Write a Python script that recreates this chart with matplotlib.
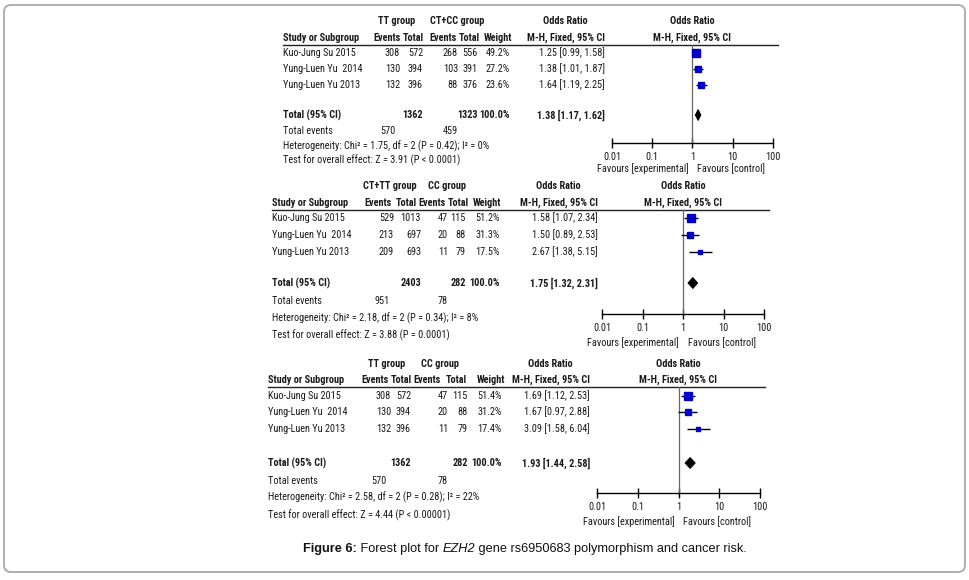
"""
Forest plots for EZH2 rs6950683 (three genetic models) - RevMan style
"""

import matplotlib
matplotlib.use("Agg")
import matplotlib.pyplot as plt
from matplotlib import font_manager as fm
from matplotlib.patches import FancyBboxPatch, Polygon

W, H = 970, 580
TXT = "#1a1a1a"
BLUE = "#0000c8"

studies = ["Kuo-Jung Su 2015", "Yung-Luen Yu  2014", "Yung-Luen Yu 2013"]

# panel 1: TT vs CT+CC
p1_groups = ["TT group", "CT+CC group"]
p1_exp_events = [308, 130, 132]
p1_exp_total = [572, 394, 396]
p1_ctl_events = [268, 103, 88]
p1_ctl_total = [556, 391, 376]
p1_weight = [49.2, 27.2, 23.6]
p1_or = [1.25, 1.38, 1.64]
p1_lo = [0.99, 1.01, 1.19]
p1_hi = [1.58, 1.87, 2.25]
p1_total = [1362, 1323]
p1_total_events = [570, 459]
p1_pooled = [1.38, 1.17, 1.62]
p1_het = "Heterogeneity: Chi\u00b2 = 1.75, df = 2 (P = 0.42); I\u00b2 = 0%"
p1_test = "Test for overall effect: Z = 3.91 (P < 0.0001)"

# panel 2: CT+TT vs CC
p2_groups = ["CT+TT group", "CC group"]
p2_exp_events = [529, 213, 209]
p2_exp_total = [1013, 697, 693]
p2_ctl_events = [47, 20, 11]
p2_ctl_total = [115, 88, 79]
p2_weight = [51.2, 31.3, 17.5]
p2_or = [1.58, 1.50, 2.67]
p2_lo = [1.07, 0.89, 1.38]
p2_hi = [2.34, 2.53, 5.15]
p2_total = [2403, 282]
p2_total_events = [951, 78]
p2_pooled = [1.75, 1.32, 2.31]
p2_het = "Heterogeneity: Chi\u00b2 = 2.18, df = 2 (P = 0.34); I\u00b2 = 8%"
p2_test = "Test for overall effect: Z = 3.88 (P = 0.0001)"

# panel 3: TT vs CC
p3_groups = ["TT group", "CC group"]
p3_exp_events = [308, 130, 132]
p3_exp_total = [572, 394, 396]
p3_ctl_events = [47, 20, 11]
p3_ctl_total = [115, 88, 79]
p3_weight = [51.4, 31.2, 17.4]
p3_or = [1.69, 1.67, 3.09]
p3_lo = [1.12, 0.97, 1.58]
p3_hi = [2.53, 2.88, 6.04]
p3_total = [1362, 282]
p3_total_events = [570, 78]
p3_pooled = [1.93, 1.44, 2.58]
p3_het = "Heterogeneity: Chi\u00b2 = 2.58, df = 2 (P = 0.28); I\u00b2 = 22%"
p3_test = "Test for overall effect: Z = 4.44 (P < 0.00001)"

or_ticks = [0.01, 0.1, 1, 10, 100]
or_tick_labels = ["0.01", "0.1", "1", "10", "100"]

# pixel layout of each panel (column values are right edges)
layouts = [
    dict(L=283, y_group=21, y_head=38, y_line=45, rows=[53, 69, 85], y_total=115,
         y_tev=131, y_het=146, y_test=160, ev1=400, tot1=423, ev2=458, tot2=478,
         wt=510, orc=605, h_ev1=401, h_tot1=424, h_ev2=457, h_tot2=480, h_wt=512,
         g1=397, g2=457, x001=612, x100=773, axis_y=143, fav_y=169),
    dict(L=272, y_group=186, y_head=203, y_line=210, rows=[218, 235, 252], y_total=283,
         y_tev=301, y_het=318, y_test=335, ev1=394, tot1=421, ev2=448, tot2=466,
         wt=500, orc=598, h_ev1=392, h_tot1=417, h_ev2=446, h_tot2=469, h_wt=501,
         g1=390, g2=447, x001=602, x100=764, axis_y=314, fav_y=343),
    dict(L=268, y_group=364, y_head=380, y_line=387, rows=[396, 412, 429], y_total=463,
         y_tev=481, y_het=497, y_test=515, ev1=391, tot1=411, ev2=448, tot2=468,
         wt=502, orc=590, h_ev1=389, h_tot1=412, h_ev2=441, h_tot2=467, h_wt=505,
         g1=387, g2=440, x001=597, x100=760, axis_y=493, fav_y=522),
]

panels = [
    (p1_groups, p1_exp_events, p1_exp_total, p1_ctl_events, p1_ctl_total, p1_weight,
     p1_or, p1_lo, p1_hi, p1_total, p1_total_events, p1_pooled, p1_het, p1_test),
    (p2_groups, p2_exp_events, p2_exp_total, p2_ctl_events, p2_ctl_total, p2_weight,
     p2_or, p2_lo, p2_hi, p2_total, p2_total_events, p2_pooled, p2_het, p2_test),
    (p3_groups, p3_exp_events, p3_exp_total, p3_ctl_events, p3_ctl_total, p3_weight,
     p3_or, p3_lo, p3_hi, p3_total, p3_total_events, p3_pooled, p3_het, p3_test),
]


# RevMan uses a narrow face; take the narrowest one we can find
def pick_font():
    entries = fm.fontManager.ttflist
    names = {f.name for f in entries}
    for fam, size in [("Roboto Condensed", 7.35), ("Liberation Sans Narrow", 7.3),
                      ("Arial Narrow", 7.3), ("Noto Sans Condensed", 6.8),
                      ("DejaVu Sans Condensed", 6.4)]:
        if fam in names:
            return fam, "normal", size
    for fam, size in [("Noto Sans", 6.8), ("DejaVu Sans", 6.4), ("Roboto", 7.3)]:
        if any(f.name == fam and f.stretch == "condensed" for f in entries):
            return fam, "condensed", size
    return "Liberation Sans", "normal", 6.0


FAM, STRETCH, FS = pick_font()
NARROW = [FAM, "DejaVu Sans"]

fig = plt.figure(figsize=(W / 100, H / 100), dpi=100)
bg = fig.add_axes([0, 0, 1, 1])
bg.set_xlim(0, W)
bg.set_ylim(H, 0)
bg.axis("off")

# rounded frame round the figure
bg.add_patch(FancyBboxPatch((4, 5), W - 9, H - 13, boxstyle="round,pad=0,rounding_size=7",
                            fc="white", ec="#a8a8a8", lw=1.3))


def txt(x, y, s, ha="left", bold=False, **kw):
    bg.text(x, y, s, ha=ha, va="center", fontsize=FS, family=NARROW, color=TXT,
            fontstretch=STRETCH, fontweight="bold" if bold else "normal", **kw)


for lay, pan in zip(layouts, panels):
    (groups, ev_e, tot_e, ev_c, tot_c, wts, ors, los, his, totals, tevents,
     pooled, het, test) = pan
    L = lay["L"]

    # header
    txt(lay["g1"], lay["y_group"], groups[0], ha="center", bold=True)
    txt(lay["g2"], lay["y_group"], groups[1], ha="center", bold=True)
    txt(lay["orc"] - 40, lay["y_group"], "Odds Ratio", ha="center", bold=True)
    txt(L, lay["y_head"], "Study or Subgroup", bold=True)
    for key, lab in [("h_ev1", "Events"), ("h_tot1", "Total"), ("h_ev2", "Events"),
                     ("h_tot2", "Total"), ("h_wt", "Weight"), ("orc", "M-H, Fixed, 95% CI")]:
        txt(lay[key], lay["y_head"], lab, ha="right", bold=True)
    bg.plot([L, lay["x100"] + 5], [lay["y_line"]] * 2, color="#222222", lw=1.0)

    # study rows
    for i, y in enumerate(lay["rows"]):
        txt(L, y, studies[i])
        txt(lay["ev1"], y, str(ev_e[i]), ha="right")
        txt(lay["tot1"], y, str(tot_e[i]), ha="right")
        txt(lay["ev2"], y, str(ev_c[i]), ha="right")
        txt(lay["tot2"], y, str(tot_c[i]), ha="right")
        txt(lay["wt"], y, f"{wts[i]:.1f}%", ha="right")
        txt(lay["orc"], y, f"{ors[i]:.2f} [{los[i]:.2f}, {his[i]:.2f}]", ha="right")

    # totals
    txt(L, lay["y_total"], "Total (95% CI)", bold=True)
    txt(lay["tot1"], lay["y_total"], str(totals[0]), ha="right", bold=True)
    txt(lay["tot2"], lay["y_total"], str(totals[1]), ha="right", bold=True)
    txt(lay["wt"], lay["y_total"], f"{sum(wts):.1f}%", ha="right", bold=True)
    txt(lay["orc"], lay["y_total"],
        f"{pooled[0]:.2f} [{pooled[1]:.2f}, {pooled[2]:.2f}]", ha="right", bold=True)
    txt(L, lay["y_tev"], "Total events")
    txt(lay["ev1"] - 4, lay["y_tev"], str(tevents[0]), ha="right")
    txt(lay["ev2"], lay["y_tev"], str(tevents[1]), ha="right")
    txt(L, lay["y_het"], het)
    txt(L, lay["y_test"], test)

    # forest part: log axis placed by pixels
    x0, x1 = lay["x001"], lay["x100"]
    ytop, ybot = lay["y_line"], lay["axis_y"]
    ax = fig.add_axes([x0 / W, 1 - ybot / H, (x1 - x0) / W, (ybot - ytop) / H])
    ax.patch.set_alpha(0)
    ax.set_xscale("log")
    ax.set_xlim(or_ticks[0], or_ticks[-1])
    ax.set_ylim(ybot, ytop)
    for side in ["top", "right", "left"]:
        ax.spines[side].set_visible(False)
    ax.spines["bottom"].set_linewidth(1.0)
    ax.set_yticks([])
    ax.set_xticks(or_ticks)
    ax.set_xticklabels(or_tick_labels, family=NARROW, fontsize=FS, color=TXT,
                       fontstretch=STRETCH)
    ax.minorticks_off()
    ax.tick_params(axis="x", direction="inout", length=7, width=1.0, pad=3)
    ax.axvline(1, color="#666666", lw=0.9)

    ax.hlines(lay["rows"], los, his, color="black", lw=1.0, zorder=3)
    for y, o, w in zip(lay["rows"], ors, wts):
        ax.plot(o, y, "s", ms=1.8 + w * 0.09, color=BLUE, mec=BLUE, zorder=4)
    yt = lay["y_total"]
    ax.add_patch(Polygon([(pooled[1], yt), (pooled[0], yt - 5.5), (pooled[2], yt),
                          (pooled[0], yt + 5.5)], closed=True, fc="black", ec="black",
                         lw=0.6, zorder=4))

    xm = (0 - (-2)) / 4 * (x1 - x0) + x0  # pixel of OR = 1
    txt(xm, lay["y_group"], "Odds Ratio", ha="center", bold=True)
    txt(xm, lay["y_head"], "M-H, Fixed, 95% CI", ha="center", bold=True)
    txt(xm - 4, lay["fav_y"], "Favours [experimental]", ha="right")
    txt(xm + 5, lay["fav_y"], "Favours [control]")

# caption
cap_font = ["Liberation Sans", "DejaVu Sans"]
t = bg.text(303, 549, "Figure 6:", fontsize=9.2, family=cap_font, fontweight="bold",
            va="center", ha="left", color="#111111")
for s, st in [(" Forest plot for ", "normal"), ("EZH2", "italic"),
              (" gene rs6950683 polymorphism and cancer risk.", "normal")]:
    t = bg.annotate(s, xy=(1, 0), xycoords=t, va="bottom", ha="left", fontsize=9.2,
                    family=cap_font, style=st, color="#111111")

fig.savefig("out.png", dpi=100)
